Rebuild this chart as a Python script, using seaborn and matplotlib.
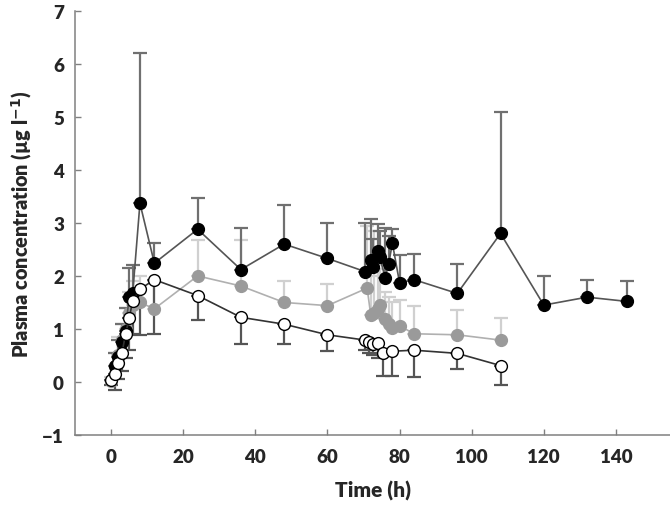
import matplotlib
matplotlib.use("Agg")
import matplotlib.pyplot as plt
import numpy as np
import seaborn as sns
import pandas as pd

sns.set_style("ticks")
plt.rcParams.update({'font.family'      : ['Lato', 'DejaVu Sans'],
                     'font.weight'      : 'bold',
                     'mathtext.default' : 'regular',
                     'axes.linewidth'   : 1.1,
                     'axes.edgecolor'   : '#808080',
                     'xtick.direction'  : 'in',
                     'ytick.direction'  : 'in'})

# -- black (filled) series, error bars upward --
black_t   = [1, 2, 3, 4, 5, 6, 8, 12, 24, 36, 48, 60, 70.5, 72, 72.5, 74, 74.5, 76, 77, 78,
             80, 84, 96, 108, 120, 132, 143]
black_m   = [0.3, 0.47, 0.75, 0.97, 1.6, 1.68, 3.37, 2.24, 2.88, 2.12, 2.6, 2.33, 2.08, 2.3,
             2.16, 2.47, 2.35, 1.97, 2.23, 2.62, 1.87, 1.93, 1.67, 2.8, 1.45, 1.6, 1.52]
black_top = [0.55, 0.8, 1.1, 1.4, 2.15, 2.2, 6.2, 2.62, 3.47, 2.9, 3.33, 2.99, 3.0, 3.08,
             2.7, 2.98, 2.85, 2.9, 2.75, 2.88, 2.4, 2.42, 2.22, 5.1, 1.99, 1.93, 1.91]

# -- grey series, error bars upward --
grey_t   = [0, 1, 2, 3, 4, 5, 6, 8, 12, 24, 36, 48, 60, 71, 72, 73, 74, 74.5, 76, 77, 78,
            80, 84, 96, 108]
grey_m   = [0.02, 0.3, 0.5, 0.8, 1.0, 1.3, 1.45, 1.5, 1.38, 2.0, 1.81, 1.5, 1.44, 1.77, 1.27,
            1.31, 1.38, 1.46, 1.19, 1.1, 1.02, 1.06, 0.91, 0.89, 0.79]
grey_top = [0.1, 0.55, 0.85, 1.1, 1.4, 1.7, 1.9, 2.0, 1.9, 2.68, 2.67, 1.9, 1.84, 2.94, 2.0,
            2.85, 2.2, 2.13, 1.7, 1.6, 1.5, 1.55, 1.44, 1.36, 1.21]

# -- white (open) series, error bars downward --
white_t   = [0, 1, 2, 3, 4, 5, 6, 8, 12, 24, 36, 48, 60, 70.5, 71.5, 72.5, 74, 75.5, 78, 84,
             96, 108]
white_m   = [0.03, 0.16, 0.35, 0.54, 0.9, 1.2, 1.53, 1.75, 1.93, 1.63, 1.22, 1.09, 0.89, 0.79,
             0.75, 0.72, 0.73, 0.54, 0.58, 0.6, 0.54, 0.31]
white_bot = [-0.05, -0.15, 0.05, 0.2, 0.45, 0.6, 0.9, 0.88, 0.91, 1.16, 0.72, 0.72, 0.58,
             0.6, 0.55, 0.5, 0.45, 0.12, 0.12, 0.09, 0.25, -0.05]

fig = plt.figure(figsize=(6.7, 5.1), dpi=100)
ax = fig.add_axes([0.112, 0.145, 0.888, 0.832])

series = [
    # t, mean, lower, upper, line colour, face, edge, bar colour
    (grey_t, grey_m, np.zeros(len(grey_m)), np.array(grey_top) - np.array(grey_m),
     '#b0b0b0', '#9a9a9a', '#9a9a9a', '#d0d0d0'),
    (black_t, black_m, np.zeros(len(black_m)), np.array(black_top) - np.array(black_m),
     '#555555', 'black', 'black', '#707070'),
    (white_t, white_m, np.array(white_m) - np.array(white_bot), np.zeros(len(white_m)),
     '#333333', 'white', 'black', '#555555'),
]

for t, m, lo, up, lc, fc, ec, bc in series:
    ax.errorbar(t, m, yerr=[lo, up], fmt='none', ecolor=bc, elinewidth=1.6,
                capsize=5, capthick=1.6, zorder=1)
    df = pd.DataFrame({'t': t, 'c': m})
    sns.lineplot(data=df, x='t', y='c', ax=ax, color=lc, linewidth=1.2, marker='o',
                 markersize=8.5, markerfacecolor=fc, markeredgecolor=ec,
                 markeredgewidth=1.0, zorder=3)

ax.set_xlim(-10, 155)
ax.set_ylim(-1, 7)
ax.set_xticks(range(0, 141, 20))
ax.set_yticks(range(-1, 8))
ax.set_yticklabels(['\u22121'] + [str(v) for v in range(0, 8)])
ax.tick_params(axis='both', length=4, width=1, color='#808080', labelsize=13.5)
ax.tick_params(axis='x', pad=9)
ax.tick_params(axis='y', pad=8)
for lab in ax.get_xticklabels() + ax.get_yticklabels():
    lab.set_fontweight('heavy')
ax.set_xlabel('Time (h)', fontsize=15, fontweight='heavy', labelpad=11)
ax.set_ylabel(r'Plasma concentration (µg l$^{\mathbf{-1}}$)', fontsize=14.3,
              fontweight='heavy', labelpad=6)
sns.despine(ax=ax)

plt.savefig('out.png', dpi=100)
